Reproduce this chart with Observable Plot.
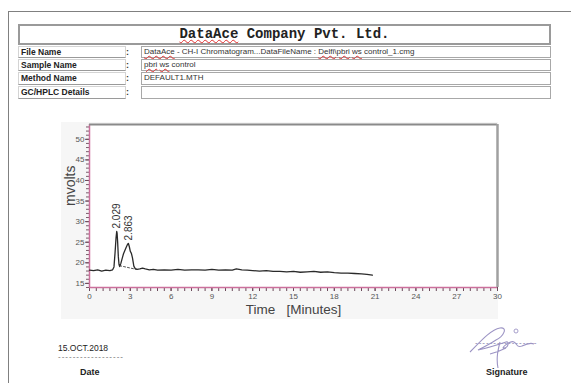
<!DOCTYPE html>
<html>
<head>
<meta charset="utf-8">
<script src="https://cdn.jsdelivr.net/npm/d3@7"></script>
<script src="https://cdn.jsdelivr.net/npm/@observablehq/plot@0.6"></script>
<style>
  html, body { margin: 0; padding: 0; background: #fff; }
  #page { position: relative; width: 571px; height: 383px; overflow: hidden; font-family: "Liberation Sans", Arial, sans-serif; }
  .abs { position: absolute; box-sizing: border-box; }
  .sp { text-decoration: underline wavy #e03030; text-decoration-thickness: 1px; text-underline-offset: 1px; }
  .lbl { font-weight: bold; font-size: 8.5px; color: #222; border: 1px solid #d4d4d4; border-bottom: 1px solid #9a9a9a; padding-left: 2px; line-height: 11px; white-space: nowrap; }
  .val { font-size: 8px; color: #333; border: 1px solid #a8a8a8; padding-left: 2px; line-height: 10px; white-space: nowrap; }
  .colon { font-weight: bold; font-size: 9px; color: #333; }
  svg { white-space: pre; }
</style>
</head>
<body>
<div id="page"></div>
<script>
// ---------- data ----------
const company = "DataAce Company Pvt. Ltd.";
const fieldLabels = ["File Name", "Sample Name", "Method Name", "GC/HPLC Details"];
const fieldValues = ["DataAce - CH-I Chromatogram...DataFileName : Delfi\\pbri ws control_1.cmg", "pbri ws control", "DEFAULT1.MTH", ""];
const flaggedWords = ["DataAce", "DataFileName", "Delfi\\pbri", "pbri", "ws"];
const reportDate = "15.OCT.2018";
const footerLabels = ["Date", "Signature"];

const times =  [0, 0.3, 0.6, 0.9, 1.2, 1.5, 1.7, 1.8, 1.88, 1.95, 2.0, 2.03, 2.07, 2.12, 2.17, 2.22, 2.3, 2.4, 2.5, 2.6, 2.7, 2.8, 2.86, 2.93, 3.0, 3.08, 3.16, 3.26, 3.36, 3.5, 3.7, 3.9, 4.1, 4.4, 4.7, 5.0, 5.5, 6.0, 6.5, 7.0, 7.5, 8.0, 8.5, 9.0, 9.5, 10.0, 10.5, 10.8, 11.2, 11.6, 12.0, 12.5, 13.0, 13.5, 14.0, 14.5, 15.0, 15.5, 16.0, 16.5, 17.0, 17.5, 18.0, 18.5, 19.0, 19.5, 20.0, 20.4, 20.8];
const mvolts = [18.2, 18.1, 18.3, 18.0, 18.2, 18.1, 18.3, 19.0, 22.5, 26.0, 27.6, 27.2, 25.0, 21.5, 19.6, 19.1, 19.8, 21.0, 22.2, 23.0, 23.8, 24.5, 24.7, 23.9, 22.8, 22.3, 21.2, 19.2, 18.6, 18.4, 18.5, 18.7, 18.5, 18.3, 18.4, 18.2, 18.3, 18.2, 18.4, 18.2, 18.3, 18.3, 18.2, 18.4, 18.2, 18.3, 18.2, 18.5, 18.3, 18.2, 18.1, 18.0, 18.1, 17.9, 17.9, 17.8, 17.9, 17.7, 17.8, 17.9, 17.7, 17.8, 17.6, 17.5, 17.5, 17.4, 17.3, 17.2, 17.0];

const peakTimes = [2.029, 2.863];
const peakHeights = [27.6, 24.7];
const peakLabels = ["2.029", "2.863"];

const baselineTimes = [2.22, 3.45];
const baselineValues = [19.3, 18.4];

const xTickLabels = [0, 3, 6, 9, 12, 15, 18, 21, 24, 27, 30];
const yTickLabels = [15, 20, 25, 30, 35, 40, 45, 50];
const xLabel = "Time   [Minutes]";
const yLabel = "mvolts";

// ---------- page header ----------
const page = document.getElementById("page");
function el(cls, css, html) {
  const d = document.createElement("div");
  d.className = "abs " + (cls || "");
  Object.assign(d.style, css);
  if (html !== undefined) d.innerHTML = html;
  page.appendChild(d);
  return d;
}
function esc(s) { return s.replace(/&/g, "&amp;").replace(/</g, "&lt;"); }
function markSpelling(s) {
  return s.split(/(\s+)/).map(w => {
    if (/^\s+$/.test(w) || w === "") return w;
    return flaggedWords.includes(w) ? `<span class="sp">${esc(w)}</span>` : esc(w);
  }).join("");
}

// outer document border
el("", {left: "8px", top: "11px", width: "570px", height: "380px", borderTop: "1.5px solid #808080", borderLeft: "1.5px solid #808080"});

// title box
el("", {left: "18px", top: "24px", width: "533px", height: "21px", border: "2px solid #9a9a9a", textAlign: "center",
  fontFamily: "'Liberation Mono', 'DejaVu Sans Mono', monospace", fontWeight: "bold", fontSize: "14px", lineHeight: "17px", color: "#222"},
  markSpelling(company));

const rowTops = [46, 59, 72, 86];
const rowHeights = [12, 12, 13, 13];
fieldLabels.forEach((lab, i) => {
  el("lbl", {left: "18px", top: rowTops[i] + "px", width: "108px", height: rowHeights[i] + "px"}, esc(lab));
  el("colon", {left: "126px", top: rowTops[i] + "px", width: "8px", height: rowHeights[i] + "px", lineHeight: rowHeights[i] + "px"}, ":");
  el("val", {left: "141px", top: rowTops[i] + "px", width: "410px", height: rowHeights[i] + "px"}, markSpelling(fieldValues[i]));
});

// chart panel background
el("", {left: "61px", top: "122px", width: "437px", height: "197px", background: "#f6f6f6"});

// ---------- chart ----------
const series = times.map((t, i) => ({t, v: mvolts[i]}));
const peaks = peakTimes.map((t, i) => ({t, v: peakHeights[i], label: peakLabels[i]}));
const baseline = baselineTimes.map((t, i) => ({t, v: baselineValues[i]}));
const xMinor = d3.range(0, 30.01, 0.5);
const yMinor = d3.range(14, 53.6, 1);
const pink = "#cc6f9c";

const chart = Plot.plot({
  width: 445,
  height: 205,
  marginLeft: 29,
  marginTop: 6,
  marginRight: 8,
  marginBottom: 36,
  style: {background: "transparent", fontFamily: "'Liberation Sans', Arial, sans-serif", overflow: "visible"},
  x: {domain: [0, 30]},
  y: {domain: [14, 53.6]},
  marks: [
    Plot.frame({fill: "white", stroke: null}),
    Plot.axisY({ticks: yMinor, tickSize: 3, text: null, label: null, stroke: "#7a5a6a"}),
    Plot.axisY({ticks: yTickLabels, tickSize: 4, tickPadding: 1, fontSize: 8, fill: "#555", stroke: "#6a4a5a", label: null}),
    Plot.axisX({ticks: xMinor, tickSize: 4, text: null, label: null, stroke: "#6a4a5a"}),
    Plot.axisX({ticks: xTickLabels, tickSize: 4, tickPadding: 2, fontSize: 8, fill: "#555", stroke: "#6a4a5a", label: null}),
    Plot.ruleY([14], {stroke: pink, strokeWidth: 1.5}),
    Plot.ruleX([0], {stroke: pink, strokeWidth: 1.5}),
    Plot.ruleY([53.6], {stroke: "#8a8a8a", strokeWidth: 2}),
    Plot.ruleX([30], {stroke: "#a0a0a0", strokeWidth: 2.5}),
    Plot.line(baseline, {x: "t", y: "v", stroke: "#555", strokeWidth: 1, strokeDasharray: "2,2"}),
    Plot.line(series, {x: "t", y: "v", stroke: "#2a2a2a", strokeWidth: 1.3}),
    Plot.text(peaks, {x: "t", y: "v", text: "label", rotate: -90, textAnchor: "start", dy: -3, fontSize: 10, fill: "#333"}),
    Plot.text([yLabel], {frameAnchor: "left", rotate: -90, dx: -19, fontSize: 14, fill: "#444"}),
    Plot.text([xLabel], {frameAnchor: "bottom", dy: 26, fontSize: 13.5, fill: "#444", letterSpacing: "0.6px"})
  ]
});
const holder = el("", {left: "60px", top: "118px"});
holder.appendChild(chart);

// ---------- footer ----------
el("", {left: "58px", top: "343px", fontSize: "8.5px", color: "#222", whiteSpace: "nowrap"}, reportDate);
el("", {left: "58px", top: "352px", fontSize: "8px", color: "#666", whiteSpace: "nowrap", letterSpacing: "1px"}, "------------------");
el("", {left: "80px", top: "367px", fontSize: "9px", fontWeight: "bold", color: "#222"}, footerLabels[0]);
el("", {left: "486px", top: "367px", fontSize: "9px", fontWeight: "bold", color: "#222"}, footerLabels[1]);
el("", {left: "475px", top: "338px", fontSize: "8px", color: "#7a74a0", whiteSpace: "nowrap", letterSpacing: "1px"}, "-----------------");
// handwritten signature scribble
const sig = el("", {left: "460px", top: "322px", width: "90px", height: "50px"});
sig.innerHTML = '<svg width="90" height="50" viewBox="0 0 90 50"><path d="M10,30 C20,20 30,8 40,6 C48,5 44,14 36,18 C30,22 22,26 18,28 C28,26 40,22 46,20 C50,19 48,26 44,26 C40,27 50,18 54,20 C58,22 56,26 62,24 C66,22 70,20 74,22 M40,20 C38,28 36,36 38,46 M30,32 C38,30 42,28 46,26" fill="none" stroke="#9c94c4" stroke-width="1.1"/><circle cx="56" cy="9" r="2" fill="none" stroke="#9c94c4" stroke-width="0.9"/></svg>';
</script>
</body>
</html>
